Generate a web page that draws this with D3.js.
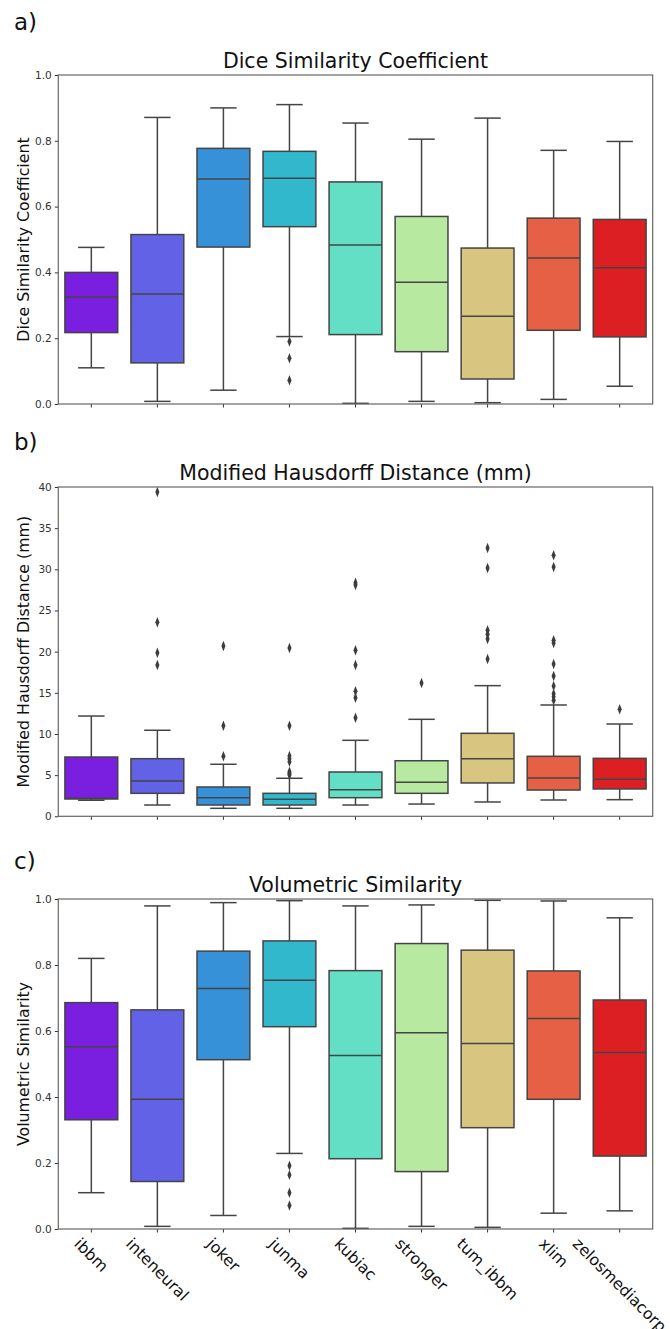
<!DOCTYPE html>
<html>
<head>
<meta charset="utf-8">
<script src="https://cdn.jsdelivr.net/npm/d3@7"></script>
<style>
  html, body { margin: 0; padding: 0; background: #fff; }
  svg { display: block; font-family: "DejaVu Sans", sans-serif; }
</style>
</head>
<body>
<svg id="chart" width="670" height="1329"></svg>
<script>
// ---------- data ----------
const categories = ["ibbm", "inteneural", "joker", "junma", "kubiac", "stronger", "tum_ibbm", "xlim", "zelosmediacorp"];
const boxColors = ["#7a1ee0", "#6262e6", "#3791d9", "#31b8cc", "#62dfc4", "#b8e9a0", "#d8c580", "#e56044", "#dc1f22"];

// Dice Similarity Coefficient
const diceLow    = [0.110, 0.008, 0.042, 0.205, 0.002, 0.008, 0.004, 0.014, 0.054];
const diceQ1     = [0.217, 0.125, 0.477, 0.539, 0.211, 0.159, 0.076, 0.224, 0.204];
const diceMedian = [0.325, 0.334, 0.684, 0.686, 0.483, 0.370, 0.267, 0.444, 0.414];
const diceQ3     = [0.400, 0.515, 0.777, 0.768, 0.675, 0.570, 0.474, 0.565, 0.561];
const diceHigh   = [0.476, 0.871, 0.900, 0.910, 0.854, 0.805, 0.869, 0.771, 0.798];
const diceOutliers = [[], [], [], [0.190, 0.139, 0.072], [], [], [], [], []];

// Modified Hausdorff Distance (mm)
const mhdLow    = [1.95, 1.37, 0.97, 0.97, 1.37, 1.49, 1.74, 1.98, 2.02];
const mhdQ1     = [2.10, 2.79, 1.37, 1.37, 2.26, 2.79, 4.05, 3.19, 3.32];
const mhdMedian = [2.20, 4.29, 2.26, 2.06, 3.23, 4.13, 7.00, 4.65, 4.49];
const mhdQ3     = [7.20, 7.00, 3.56, 2.79, 5.38, 6.75, 10.08, 7.29, 7.04];
const mhdHigh   = [12.18, 10.45, 6.32, 4.62, 9.23, 11.78, 15.87, 13.52, 11.21];
const mhdOutliers = [
  [],
  [39.4, 23.56, 19.87, 18.38],
  [20.69, 11.0, 7.29],
  [20.44, 11.0, 7.33, 7.0, 6.63, 5.42, 5.2, 5.02],
  [28.37, 28.1, 20.16, 18.38, 15.18, 14.41, 11.98],
  [16.19],
  [32.6, 30.16, 22.59, 22.1, 21.53, 19.1],
  [31.7, 30.28, 21.38, 21.05, 18.5, 17.04, 15.83, 14.9, 14.53, 14.09],
  [13.0]
];

// Volumetric Similarity
const vsLow    = [0.110, 0.008, 0.041, 0.229, 0.002, 0.008, 0.005, 0.048, 0.055];
const vsQ1     = [0.331, 0.144, 0.513, 0.613, 0.213, 0.174, 0.307, 0.393, 0.221];
const vsMedian = [0.552, 0.393, 0.729, 0.754, 0.526, 0.595, 0.562, 0.638, 0.535];
const vsQ3     = [0.686, 0.664, 0.842, 0.873, 0.783, 0.865, 0.845, 0.782, 0.694];
const vsHigh   = [0.820, 0.979, 0.989, 0.995, 0.979, 0.982, 0.996, 0.994, 0.943];
const vsOutliers = [[], [], [], [0.192, 0.164, 0.110, 0.071], [], [], [], [], []];

const diceTicks = [0.0, 0.2, 0.4, 0.6, 0.8, 1.0];
const mhdTicks = [0, 5, 10, 15, 20, 25, 30, 35, 40];
const vsTicks = [0.0, 0.2, 0.4, 0.6, 0.8, 1.0];

// ---------- layout ----------
const svg = d3.select("#chart");
const left = 58.3, right = 652.7;
const edge = "#444";

const panels = [
  { tag: "a)", tagY: 30, title: "Dice Similarity Coefficient", ylabel: "Dice Similarity Coefficient",
    top: 75, bottom: 404, domain: [0, 1], ticks: diceTicks, fmt: d3.format(".1f"),
    low: diceLow, q1: diceQ1, med: diceMedian, q3: diceQ3, high: diceHigh, out: diceOutliers, xlabels: false },
  { tag: "b)", tagY: 450, title: "Modified Hausdorff Distance (mm)", ylabel: "Modified Hausdorff Distance (mm)",
    top: 487, bottom: 816.3, domain: [0, 40], ticks: mhdTicks, fmt: d3.format("d"),
    low: mhdLow, q1: mhdQ1, med: mhdMedian, q3: mhdQ3, high: mhdHigh, out: mhdOutliers, xlabels: false },
  { tag: "c)", tagY: 869, title: "Volumetric Similarity", ylabel: "Volumetric Similarity",
    top: 899, bottom: 1229, domain: [0, 1], ticks: vsTicks, fmt: d3.format(".1f"),
    low: vsLow, q1: vsQ1, med: vsMedian, q3: vsQ3, high: vsHigh, out: vsOutliers, xlabels: true }
];

const x = d3.scaleBand().domain(categories).range([left, right]).paddingInner(0).paddingOuter(0);
const boxW = x.bandwidth() * 0.8;
const capW = boxW / 2;
const diamond = d3.symbol().type(d3.symbolDiamond).size(26);

panels.forEach(p => {
  const y = d3.scaleLinear().domain(p.domain).range([p.bottom, p.top]);
  const g = svg.append("g");

  g.append("text").attr("x", 14).attr("y", p.tagY)
    .attr("font-size", 23).attr("fill", "#111").text(p.tag);

  g.append("text").attr("x", (left + right) / 2).attr("y", p.top - 7)
    .attr("text-anchor", "middle").attr("font-size", 20.5).attr("fill", "#111").text(p.title);

  g.append("text")
    .attr("transform", `translate(29,${(p.top + p.bottom) / 2}) rotate(-90)`)
    .attr("text-anchor", "middle").attr("font-size", 15.8).attr("fill", "#111").text(p.ylabel);

  const yAxis = d3.axisLeft(y).tickValues(p.ticks).tickFormat(p.fmt).tickSize(3.5).tickPadding(3);
  const ya = g.append("g").attr("transform", `translate(${left},0)`).call(yAxis);
  ya.select(".domain").remove();
  ya.selectAll("line").attr("stroke", "#333");
  ya.selectAll("text").attr("font-size", 10.5).attr("fill", "#333")
    .attr("font-family", "DejaVu Sans, sans-serif");

  const xAxis = d3.axisBottom(x).tickSize(3.5).tickFormat("");
  const xa = g.append("g").attr("transform", `translate(0,${p.bottom})`).call(xAxis);
  xa.select(".domain").remove();
  xa.selectAll("line").attr("stroke", "#333");

  categories.forEach((c, i) => {
    const cx = x(c) + x.bandwidth() / 2;
    const bg = g.append("g");
    bg.append("line").attr("x1", cx).attr("x2", cx).attr("y1", y(p.q3[i])).attr("y2", y(p.high[i]))
      .attr("stroke", edge).attr("stroke-width", 1.5);
    bg.append("line").attr("x1", cx).attr("x2", cx).attr("y1", y(p.q1[i])).attr("y2", y(p.low[i]))
      .attr("stroke", edge).attr("stroke-width", 1.5);
    [p.high[i], p.low[i]].forEach(v => {
      bg.append("line").attr("x1", cx - capW / 2).attr("x2", cx + capW / 2)
        .attr("y1", y(v)).attr("y2", y(v)).attr("stroke", edge).attr("stroke-width", 1.5);
    });
    bg.append("rect").attr("x", cx - boxW / 2).attr("width", boxW)
      .attr("y", y(p.q3[i])).attr("height", y(p.q1[i]) - y(p.q3[i]))
      .attr("fill", boxColors[i]).attr("stroke", edge).attr("stroke-width", 1.5);
    bg.append("line").attr("x1", cx - boxW / 2).attr("x2", cx + boxW / 2)
      .attr("y1", y(p.med[i])).attr("y2", y(p.med[i])).attr("stroke", edge).attr("stroke-width", 1.5);
    p.out[i].forEach(v => {
      bg.append("path").attr("d", diamond)
        .attr("transform", `translate(${cx},${y(v)}) scale(0.75,1.1)`)
        .attr("fill", "#3d3d3d");
    });
  });

  g.append("rect").attr("x", left).attr("y", p.top).attr("width", right - left).attr("height", p.bottom - p.top)
    .attr("fill", "none").attr("stroke", "#666").attr("stroke-width", 1.2);

  if (p.xlabels) {
    categories.forEach(c => {
      const cx = x(c) + x.bandwidth() / 2;
      const t = g.append("text").attr("font-size", 15.8).attr("fill", "#111")
        .attr("text-anchor", "middle").attr("dominant-baseline", "central").text(c);
      const L = t.node().getComputedTextLength();
      const h = 11;
      const half = (L + h) * Math.SQRT1_2 / 2;
      t.attr("transform", `translate(${cx},${p.bottom + 8 + half}) rotate(45)`);
    });
  }
});
</script>
</body>
</html>
